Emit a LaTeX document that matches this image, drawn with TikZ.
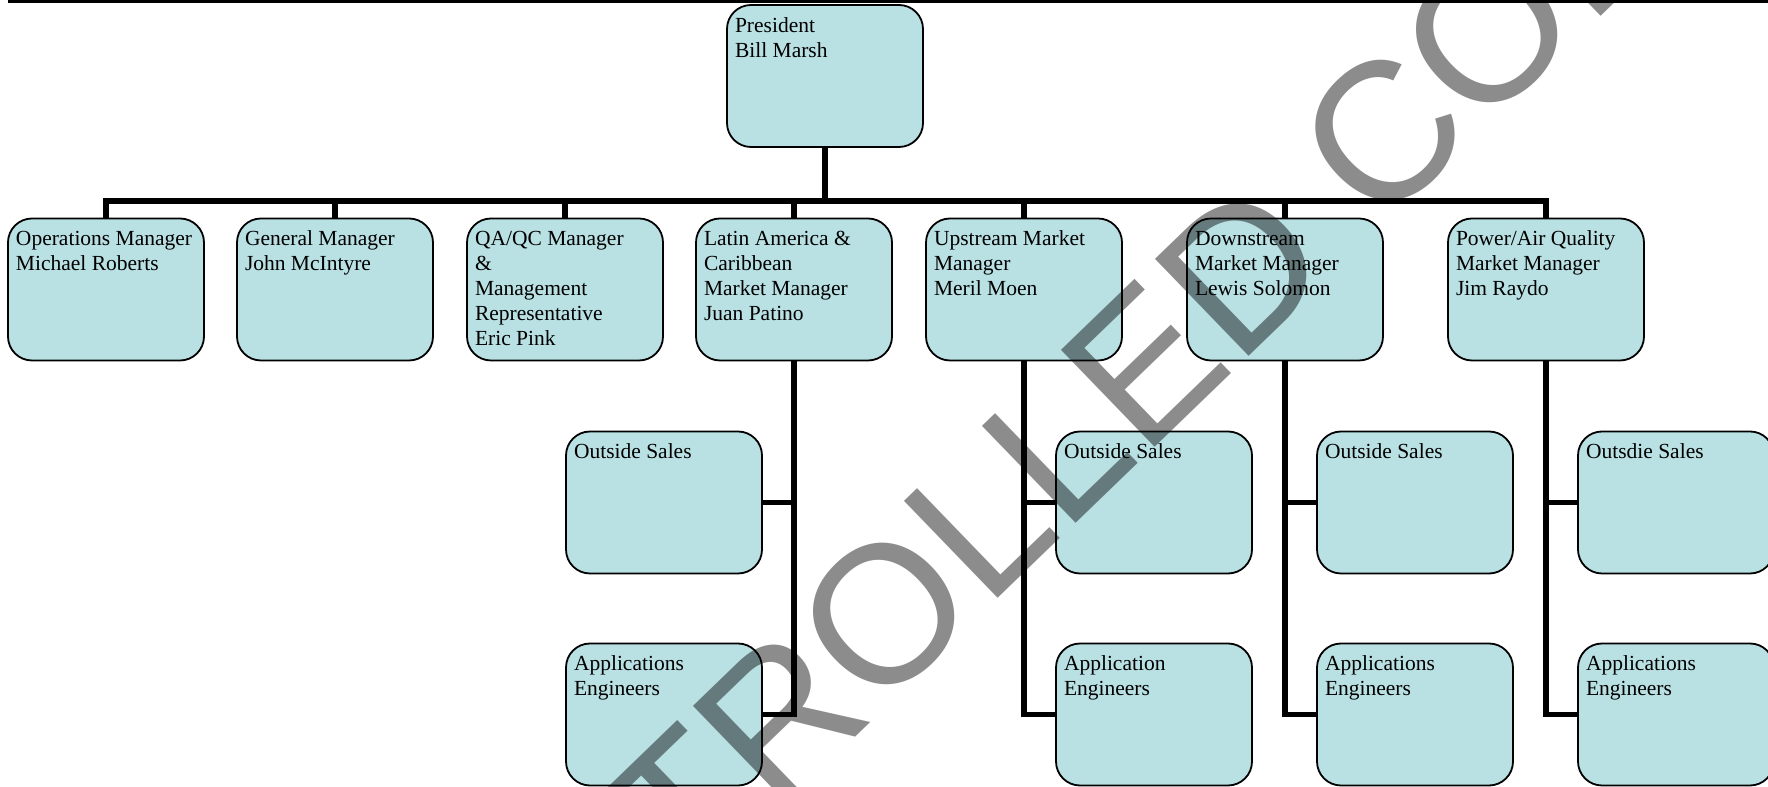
\documentclass[tikz,border=0pt]{standalone}
\usepackage{fontspec}
\setmainfont{Liberation Serif}
\newfontfamily\stampfont{Liberation Sans}
\usepackage{tikz}
\usetikzlibrary{positioning}
\definecolor{chartfill}{RGB}{185,224,227}
\tikzstyle{post} = [
  rectangle, rounded corners = 12pt,
  minimum width = 98, minimum height = 71,
  inner xsep = 4, inner ysep = 5,
  draw = black, line width = 0.9, fill = chartfill,
  font = \fontsize{10.75}{12.4}\selectfont
]
\tikzstyle{link} = [line width = 2.75, line join = miter]
\tikzstyle{stamp} = [rotate = 44, anchor = base, inner sep = 0,
  text = black, text opacity = 0.45,
  font = \stampfont\fontsize{98}{98}\selectfont]
\newcommand{\posttext}[1]{\parbox[t][61pt][t]{90pt}{\raggedright\strut #1}}

\begin{document}
\begin{tikzpicture}[node distance = 0]
      \useasboundingbox (0, 0) rectangle (884pt, 393.5pt);
      \draw [line width = 1.5] (4pt, 392.75pt) -- (884pt, 392.75pt);

      \node [post] (pres) at (412.5pt, 355.5pt) {\posttext{President\\Bill Marsh}};

      \node [post] (ops) at (53pt, 248.75pt) {\posttext{Operations Manager\\Michael Roberts}};
      \node [post, right of = ops, xshift = 114.5] (gm) {\posttext{General Manager\\John McIntyre}};
      \node [post, right of = gm, xshift = 115] (qaqc) {\posttext{QA/QC Manager\\\&\\Management\\Representative\\Eric Pink}};
      \node [post, right of = qaqc, xshift = 114.5] (latam) {\posttext{Latin America \&\\Caribbean\\Market Manager\\Juan Patino}};
      \node [post, right of = latam, xshift = 115] (upstream) {\posttext{Upstream Market\\Manager\\Meril Moen}};
      \node [post, right of = upstream, xshift = 130.5] (downstream) {\posttext{Downstream\\Market Manager\\Lewis Solomon}};
      \node [post, right of = downstream, xshift = 130.5] (power) {\posttext{Power/Air Quality\\Market Manager\\Jim Raydo}};

      \node [post, below of = latam, xshift = -65, yshift = -106.5] (latam-sales) {\posttext{Outside Sales}};
      \node [post, below of = latam-sales, yshift = -106] (latam-apps) {\posttext{Applications\\Engineers}};
      \node [post, below of = upstream, xshift = 65, yshift = -106.5] (upstream-sales) {\posttext{Outside Sales}};
      \node [post, below of = upstream-sales, yshift = -106] (upstream-apps) {\posttext{Application\\Engineers}};
      \node [post, below of = downstream, xshift = 65, yshift = -106.5] (downstream-sales) {\posttext{Outside Sales}};
      \node [post, below of = downstream-sales, yshift = -106] (downstream-apps) {\posttext{Applications\\Engineers}};
      \node [post, below of = power, xshift = 65, yshift = -106.5] (power-sales) {\posttext{Outsdie Sales}};
      \node [post, below of = power-sales, yshift = -106] (power-apps) {\posttext{Applications\\Engineers}};

      % bus under the president
      \coordinate (bus) at (0, 293pt);
      \draw [link] (pres.south) -- (pres.south |- bus);
      \draw [link] (ops.north) |- (power.north |- bus) -- (power.north);
      \foreach \post in {gm, qaqc, latam, upstream, downstream}
        \draw [link] (\post.north) -- (\post.north |- bus);

      % sales and engineers under the market managers
      \foreach \post/\side in {latam/east, upstream/west, downstream/west, power/west} {
        \draw [link] (\post.south) |- (\post-apps.\side);
        \draw [link] (\post.south |- \post-sales.\side) -- (\post-sales.\side);
      }

      \begin{scope}
        \clip (0, 0) rectangle (884pt, 393.5pt);
        \node [stamp] (watermark) at (487.5pt, 83pt) {UNCONTROLLED COPY};
      \end{scope}
    \end{tikzpicture}
\end{document}
